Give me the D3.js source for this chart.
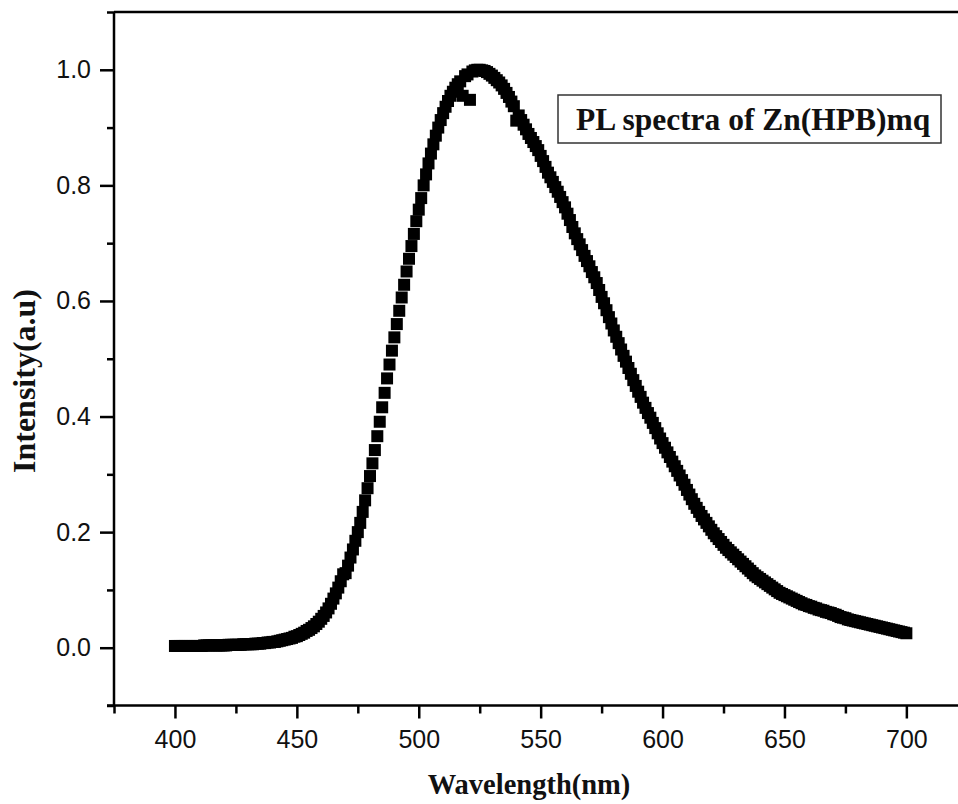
<!DOCTYPE html>
<html>
<head>
<meta charset="utf-8">
<script src="https://cdn.jsdelivr.net/npm/d3@7"></script>
<style>
  body { margin: 0; background: #fff; }
  .tick-label { font-family: "Liberation Sans", Arial, sans-serif; font-size: 25px; fill: #111; }
  .axis-title { font-family: "Liberation Serif", "Times New Roman", serif; font-weight: bold; fill: #111; }
</style>
</head>
<body>
<div id="chart"></div>
<script>
// Wavelength range of the measured spectrum (1 nm step)
const startWavelength = 400;
const endWavelength = 700;

// Normalised PL intensity, one value per nm from 400 to 700
const intensity = [
  .003,.003,.003,.003,.003,.003,.003,.003,.003,.003,
  .003,.003,.004,.004,.004,.004,.004,.004,.004,.004,
  .004,.004,.005,.005,.005,.005,.005,.005,.006,.006,
  .006,.006,.006,.007,.007,.007,.008,.008,.009,.009,
  .010,.010,.011,.012,.013,.014,.015,.016,.017,.019,
  .020,.022,.024,.026,.029,.031,.034,.037,.041,.045,
  .050,.055,.061,.068,.076,.085,.094,.104,.115,.127,
  .129,.142,.156,.170,.185,.200,.216,.235,.255,.276,
  .297,.319,.342,.366,.391,.416,.441,.466,.490,.514,
  .537,.560,.583,.606,.628,.651,.673,.695,.716,.738,
  .758,.778,.800,.819,.838,.855,.871,.886,.900,.913,
  .925,.936,.946,.955,.962,.969,.975,.980,.955,.989,
  .992,.948,.997,.999,1.0,1.0,.999,.998,.996,.993,
  .990,.986,.982,.978,.973,.967,.960,.953,.945,.937,
  .912,.921,.913,.905,.897,.889,.882,.875,.868,.861,
  .851,.842,.832,.822,.814,.806,.797,.789,.780,.771,
  .762,.751,.740,.728,.717,.707,.698,.688,.678,.669,
  .660,.650,.641,.631,.619,.607,.596,.584,.572,.561,
  .549,.538,.527,.516,.505,.495,.484,.474,.463,.453,
  .443,.434,.424,.415,.406,.398,.389,.380,.371,.362,
  .354,.346,.338,.330,.322,.314,.306,.298,.290,.282,
  .273,.265,.257,.249,.242,.235,.228,.222,.216,.210,
  .204,.198,.193,.188,.183,.178,.173,.169,.165,.161,
  .157,.153,.149,.145,.141,.137,.133,.129,.125,.122,
  .119,.116,.113,.110,.107,.104,.101,.098,.095,.093,
  .091,.089,.087,.085,.083,.081,.079,.077,.075,.074,
  .072,.071,.069,.068,.066,.065,.064,.062,.061,.060,
  .058,.057,.055,.053,.052,.051,.049,.048,.047,.046,
  .045,.044,.043,.042,.041,.040,.039,.038,.037,.036,
  .035,.034,.033,.032,.031,.030,.029,.028,.027,.026,
  .025
];

// Axis tick values
const xMajorTicks = [400, 450, 500, 550, 600, 650, 700];
const xMinorTicks = [375, 425, 475, 525, 575, 625, 675, 725];
const yMajorTicks = [0.0, 0.2, 0.4, 0.6, 0.8, 1.0];
const yMinorTicks = [-0.1, 0.1, 0.3, 0.5, 0.7, 0.9, 1.1];

const xTitle = "Wavelength(nm)";
const yTitle = "Intensity(a.u)";
const legendText = "PL spectra of Zn(HPB)mq";

const data = intensity.map((v, i) => ({ wl: startWavelength + i, v: v }));

const outerwidth = 958, outerheight = 804;
const plot = { left: 114, right: 960, top: 12, bottom: 705.5 };
const markerSize = 12;

const svg = d3.select("#chart")
  .append("svg")
  .attr("width", outerwidth)
  .attr("height", outerheight);

const xscale = d3.scaleLinear().domain([375, 722]).range([plot.left, plot.right]);
const yscale = d3.scaleLinear().domain([-0.1, 1.1]).range([plot.bottom, plot.top]);

// Markers - filled black squares
svg.append("g")
  .selectAll("rect").data(data).enter().append("rect")
  .attr("x", d => xscale(d.wl) - markerSize / 2)
  .attr("y", d => yscale(d.v) - markerSize / 2)
  .attr("width", markerSize)
  .attr("height", markerSize)
  .attr("fill", "#000");

// Frame top line
svg.append("line")
  .attr("x1", plot.left).attr("x2", outerwidth)
  .attr("y1", plot.top).attr("y2", plot.top)
  .attr("stroke", "#000").attr("stroke-width", 2.5);

// Axes
const styleAxis = g => {
  g.select(".domain").remove();
  g.selectAll(".tick line").attr("stroke", "#000").attr("stroke-width", 2.5);
  g.selectAll(".tick text").attr("class", "tick-label").attr("fill", null);
};

// x minor
svg.append("g")
  .attr("transform", `translate(0,${plot.bottom})`)
  .call(d3.axisBottom(xscale).tickValues(xMinorTicks).tickSize(8).tickFormat(""))
  .call(styleAxis);
// x major
svg.append("g")
  .attr("transform", `translate(0,${plot.bottom})`)
  .call(d3.axisBottom(xscale).tickValues(xMajorTicks).tickSize(13).tickPadding(12).tickFormat(d3.format("d")))
  .call(styleAxis);
// y minor
svg.append("g")
  .attr("transform", `translate(${plot.left},0)`)
  .call(d3.axisLeft(yscale).tickValues(yMinorTicks).tickSize(7).tickFormat(""))
  .call(styleAxis);
// y major
svg.append("g")
  .attr("transform", `translate(${plot.left},0)`)
  .call(d3.axisLeft(yscale).tickValues(yMajorTicks).tickSize(14).tickPadding(9).tickFormat(d3.format(".1f")))
  .call(styleAxis);

// Axis lines
svg.append("line")
  .attr("x1", plot.left).attr("x2", plot.left)
  .attr("y1", plot.top).attr("y2", plot.bottom)
  .attr("stroke", "#000").attr("stroke-width", 2.5);
svg.append("line")
  .attr("x1", plot.left - 7).attr("x2", outerwidth)
  .attr("y1", plot.bottom).attr("y2", plot.bottom)
  .attr("stroke", "#000").attr("stroke-width", 2.5);

// Axis titles
svg.append("text")
  .attr("class", "axis-title")
  .attr("x", 529).attr("y", 794)
  .attr("text-anchor", "middle")
  .style("font-size", "28.5px")
  .text(xTitle);

svg.append("text")
  .attr("class", "axis-title")
  .attr("transform", "translate(35,381) rotate(-90)")
  .attr("text-anchor", "middle")
  .style("font-size", "32px")
  .text(yTitle);

// Legend box
svg.append("rect")
  .attr("x", 558).attr("y", 95)
  .attr("width", 383).attr("height", 48)
  .attr("fill", "#fff")
  .attr("stroke", "#333").attr("stroke-width", 1.5);
svg.append("text")
  .attr("class", "axis-title")
  .attr("x", 576).attr("y", 130)
  .style("font-size", "31.5px")
  .text(legendText);
</script>
</body>
</html>
